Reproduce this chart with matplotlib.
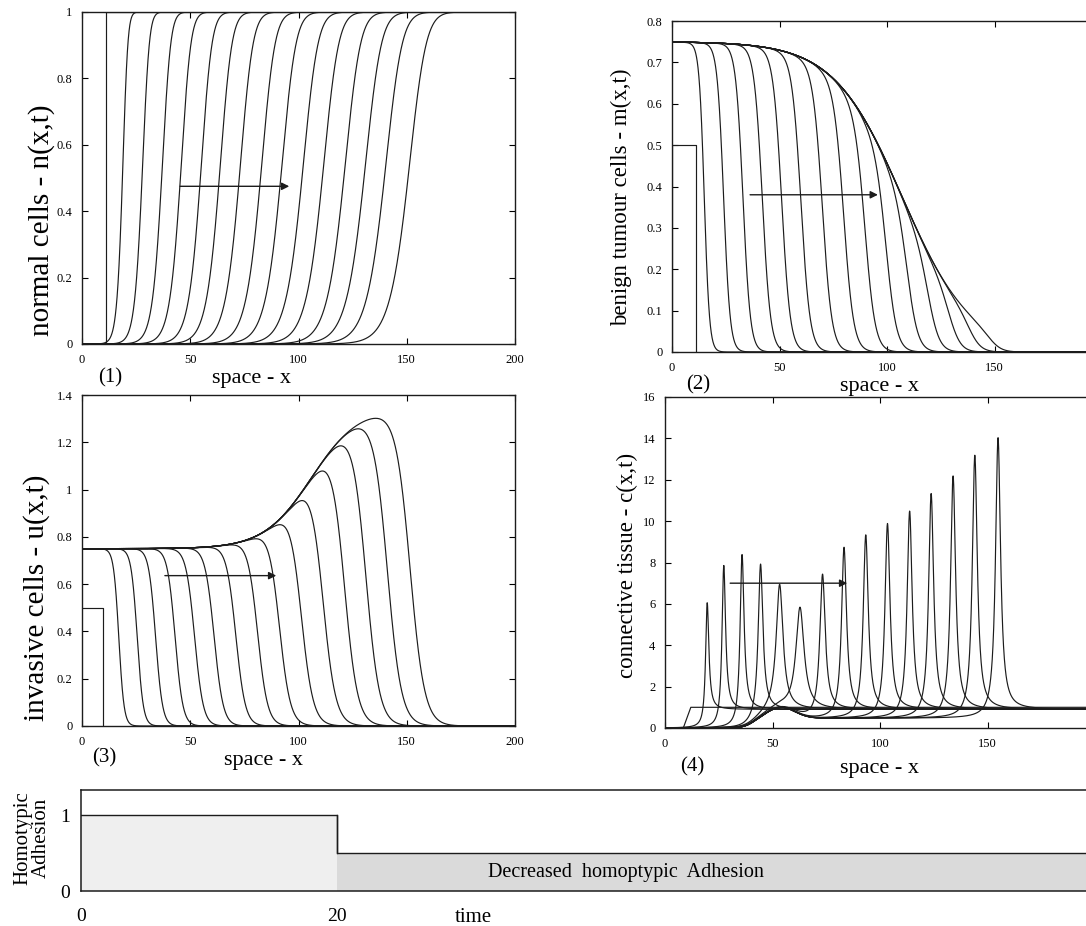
import numpy as np
import matplotlib
matplotlib.use('Agg')
import matplotlib.pyplot as plt

plt.rcParams['font.family'] = ['Liberation Serif', 'DejaVu Serif']

W, H = 1086, 926

# (1) normal cells n(x,t): front positions / widths for each time step
n_front = [20, 29.5, 39, 48, 57.5, 66.5, 76, 86, 95.5, 105.5, 115, 125, 134.5, 144, 155]
n_width = [1.5, 2.0, 2.5, 2.9, 3.2, 3.5, 3.8, 4.0, 4.2, 4.4, 4.5, 4.6, 4.8, 4.9, 5.0]
n_init_x = [0, 11, 11, 200]
n_init_y = [0, 0, 1, 1]

# (2) benign tumour cells m(x,t)
m_plateau = 0.75
m_front = [15, 24, 33, 42, 51, 60, 70, 80, 90, 100, 110, 120, 130, 139.5, 149]
m_width = [1.2, 1.5, 1.7, 1.9, 2.0, 2.1, 2.2, 2.3, 2.4, 2.5, 2.6, 2.7, 2.8, 2.9, 3.0]
m_env_mid, m_env_width = 107, 16
m_init_x = [0, 0, 11, 11]
m_init_y = [0, 0.5, 0.5, 0]

# (3) invasive cells u(x,t)
u_plateau = 0.75
u_front = [17, 25.5, 34, 43, 52, 61, 71, 81, 91, 101, 111, 121, 131, 141, 151.5]
u_width = [1.2, 1.4, 1.6, 1.8, 2.0, 2.1, 2.2, 2.3, 2.5, 2.7, 2.9, 3.0, 3.1, 3.2, 3.3]
u_env_rise, u_env_mid, u_env_width = 0.6, 106, 11
u_init_x = [0, 9.5, 9.5]
u_init_y = [0.5, 0.5, 0]

# (4) connective tissue c(x,t): spike positions, heights and widths
c_peak_x = [19.6, 27.3, 35.8, 44.4, 53.3, 62.7, 73.2, 83.2, 93.3, 103.4, 113.7, 123.7, 133.9, 144.0, 154.8]
c_peak_h = [6.5, 8.3, 8.8, 8.1, 6.9, 5.95, 7.65, 8.95, 9.55, 10.1, 10.7, 11.55, 12.4, 13.4, 14.25]
c_peak_w = [0.9, 1.0, 1.1, 1.3, 1.9, 2.3, 1.5, 1.4, 1.4, 1.4, 1.4, 1.4, 1.4, 1.4, 1.4]
c_ahead = 0.9
c_init_x = [0, 8.5, 12, 200]
c_init_y = [0, 0, 1, 1]

# bottom strip: homotypic adhesion vs time
adh_time = [0, 20, 80]
adh_level = [1, 0.5, 0.5]

x = np.linspace(0, 200, 4001)


def sig(z):
    return 1.0 / (1.0 + np.exp(-z))


def box(l, t, r, b):
    return [l / W, 1 - b / H, (r - l) / W, (b - t) / H]


def ftext(px, py, s, **kw):
    fig.text(px / W, 1 - py / H, s, ha='center', va='center', **kw)


LC = '#1c1c1c'
LW = 0.85

fig = plt.figure(figsize=(W / 100, H / 100), dpi=100)
ax1 = fig.add_axes(box(82, 12, 515, 344))
ax2 = fig.add_axes(box(672, 21, 1113, 352))
ax3 = fig.add_axes(box(82, 395, 515, 726))
ax4 = fig.add_axes(box(665, 397, 1106, 728))
ax5 = fig.add_axes(box(81, 790, 1106, 891))


def style(ax, xmax, xt, ymax, yt, ylab):
    ax.set_xlim(0, xmax)
    ax.set_ylim(0, ymax)
    ax.set_xticks(xt)
    ax.set_xticklabels([str(v) for v in xt])
    ax.set_yticks(yt)
    ax.set_yticklabels(ylab)
    ax.tick_params(direction='in', top=True, right=True, length=4, width=0.8,
                   labelsize=9, pad=7)
    for s in ax.spines.values():
        s.set_linewidth(1.0)
        s.set_color(LC)


# (1)
for f, w in zip(n_front, n_width):
    ax1.plot(x, 1 - (1 - sig((x - f) / w)) ** 2, color=LC, lw=LW)
ax1.plot(n_init_x, n_init_y, color=LC, lw=LW)
style(ax1, 200, [0, 50, 100, 150, 200], 1.0, [0, 0.2, 0.4, 0.6, 0.8, 1.0],
      ['0', '0.2', '0.4', '0.6', '0.8', '1'])
ax1.annotate('', xy=(97, 0.475), xytext=(44, 0.475),
             arrowprops=dict(arrowstyle='-|>', color=LC, lw=1, mutation_scale=11))

# (2)
m_env = sig(-(x - m_env_mid) / m_env_width)
for f, w in zip(m_front, m_width):
    ax2.plot(x, m_plateau * sig(-(x - f) / w) * m_env, color=LC, lw=LW)
ax2.plot(m_init_x, m_init_y, color=LC, lw=LW)
style(ax2, 205, [0, 50, 100, 150], 0.8, [0, 0.1, 0.2, 0.3, 0.4, 0.5, 0.6, 0.7, 0.8],
      ['0', '0.1', '0.2', '0.3', '0.4', '0.5', '0.6', '0.7', '0.8'])
ax2.annotate('', xy=(97, 0.38), xytext=(35, 0.38),
             arrowprops=dict(arrowstyle='-|>', color=LC, lw=1, mutation_scale=11))

# (3)
u_env = u_plateau + u_env_rise * sig((x - u_env_mid) / u_env_width)
for f, w in zip(u_front, u_width):
    ax3.plot(x, u_env * sig(-(x - f) / w), color=LC, lw=LW)
ax3.plot(u_init_x, u_init_y, color=LC, lw=LW)
style(ax3, 200, [0, 50, 100, 150, 200], 1.4, [0, 0.2, 0.4, 0.6, 0.8, 1.0, 1.2, 1.4],
      ['0', '0.2', '0.4', '0.6', '0.8', '1', '1.2', '1.4'])
ax3.annotate('', xy=(91, 0.636), xytext=(37, 0.636),
             arrowprops=dict(arrowstyle='-|>', color=LC, lw=1, mutation_scale=11))

# (4)
c_behind = 0.47 * sig((x - 41) / 2.5) + 0.53 * np.exp(-((x - 54) / 9) ** 2)
for f, h, g in zip(c_peak_x, c_peak_h, c_peak_w):
    step = sig((x - f) / 0.5)
    base = c_behind * (1 - step) + c_ahead * step
    spike = (h - c_ahead) / (1 + ((x - f) / g) ** 2)
    ax4.plot(x, base + spike, color=LC, lw=LW)
ax4.plot(c_init_x, c_init_y, color=LC, lw=LW)
style(ax4, 205, [0, 50, 100, 150], 16, list(range(0, 17, 2)),
      [str(v) for v in range(0, 17, 2)])
ax4.annotate('', xy=(86, 7.0), xytext=(29, 7.0),
             arrowprops=dict(arrowstyle='-|>', color=LC, lw=1, mutation_scale=11))

# axis labels and panel numbers
ftext(42, 220, 'normal cells - n(x,t)', fontsize=21, rotation=90)
ftext(621, 197, 'benign tumour cells - m(x,t)', fontsize=16.5, rotation=90)
ftext(37, 598, 'invasive cells - u(x,t)', fontsize=21, rotation=90)
ftext(627, 565, 'connective tissue - c(x,t)', fontsize=16.5, rotation=90)

ftext(110, 378, '(1)', fontsize=15)
ftext(252, 378, 'space - x', fontsize=16)
ftext(698, 385, '(2)', fontsize=15)
ftext(880, 387, 'space - x', fontsize=16)
ftext(104, 758, '(3)', fontsize=15)
ftext(263, 760, 'space - x', fontsize=16)
ftext(692, 767, '(4)', fontsize=15)
ftext(880, 768, 'space - x', fontsize=16)

# bottom strip
fills = ['#efefef', '#dadada']
edges = adh_time[1:] + [adh_time[-1]]
for i in range(len(adh_level)):
    ax5.fill_between([adh_time[i], edges[i]], 0, adh_level[i], color=fills[min(i, 1)], lw=0)
ax5.step(adh_time, adh_level, where='post', color=LC, lw=1.0)
ax5.plot([adh_time[1], adh_time[1]], [adh_level[0], adh_level[1]], color=LC, lw=1.0)
ax5.set_xlim(0, 80)
ax5.set_ylim(0, 1.33)
ax5.spines['right'].set_visible(False)
for s in ['left', 'top', 'bottom']:
    ax5.spines[s].set_linewidth(1.1)
    ax5.spines[s].set_color(LC)
ax5.set_xticks([0, 20])
ax5.set_xticklabels(['0', '20'])
ax5.set_yticks([0, 1])
ax5.set_yticklabels(['0', '1'])
ax5.tick_params(axis='y', length=0, labelsize=14, pad=8)
ax5.tick_params(axis='x', length=0, labelsize=14, pad=12)
ax5.text(42.5, 0.24, 'Decreased  homoptypic  Adhesion', ha='center', va='center', fontsize=14.5)
ftext(473, 917, 'time', fontsize=15)
ftext(32, 838, 'Homotypic\nAdhesion', fontsize=15, rotation=90, linespacing=0.95)

fig.savefig('out.png', dpi=100)
